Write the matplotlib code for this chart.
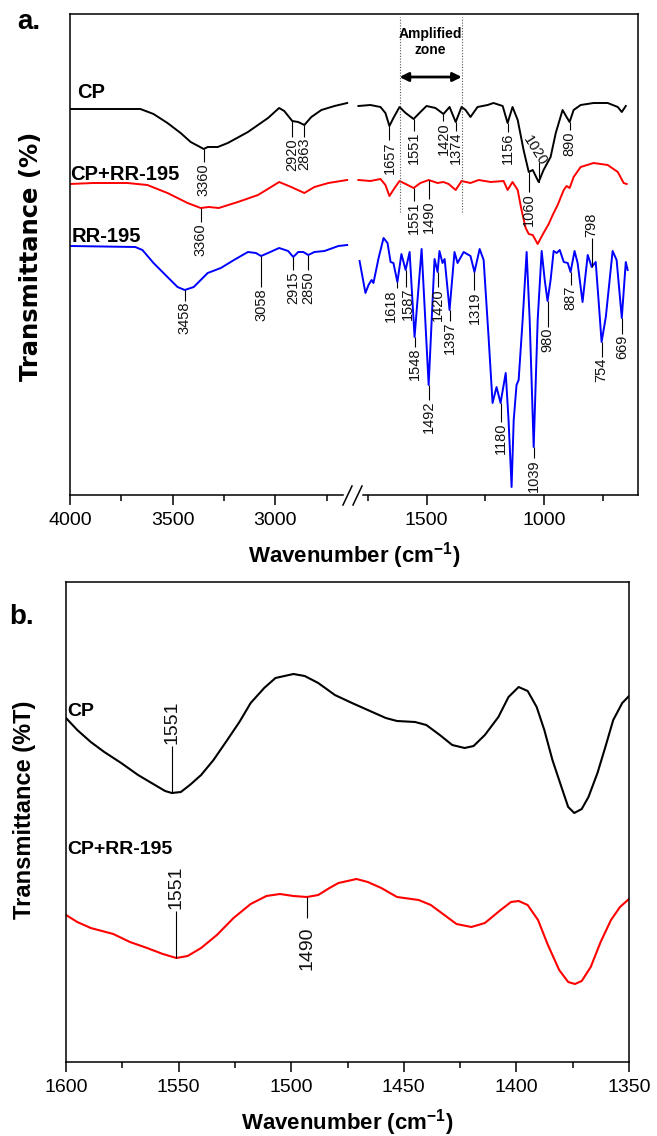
import numpy as np
import matplotlib
matplotlib.use("Agg")
import matplotlib.pyplot as plt

plt.rcParams['font.family'] = ['Liberation Sans', 'DejaVu Sans']
plt.rcParams['mathtext.default'] = 'regular'

# ---------------- Panel a data (wavenumber, transmittance a.u.) ----------------
cp_left_wn = [4000, 3657, 3593, 3525, 3461, 3412, 3348, 3329, 3304, 3280, 3231, 3133, 3035,
              2981, 2956, 2917, 2888, 2858, 2824, 2775, 2711, 2638]
cp_left_t = [386, 386, 381, 372, 362, 353, 346, 348, 348, 348, 352, 363, 377,
             387, 384, 374, 373, 370, 378, 385, 389, 392]

cprr_left_wn = [4000, 3887, 3721, 3623, 3525, 3427, 3363, 3324, 3275, 3182, 3084, 3020,
                2981, 2922, 2858, 2809, 2741, 2638]
cprr_left_t = [311, 312, 312, 310, 302, 292, 287, 288, 287, 293, 300, 308,
               313, 308, 302, 308, 312, 315]

rr_left_wn = [4000, 3682, 3647, 3593, 3525, 3476, 3441, 3397, 3329, 3265, 3201, 3133, 3094,
              3069, 3035, 2981, 2937, 2912, 2888, 2863, 2839, 2809, 2760, 2692, 2638]
rr_left_t = [249, 248, 245, 232, 218, 208, 205, 208, 222, 227, 235, 243, 242,
             239, 242, 247, 244, 238, 243, 243, 240, 243, 244, 249, 250]

cp_right_wn = [1790, 1739, 1696, 1675, 1658, 1641, 1615, 1589, 1555, 1526, 1500, 1462, 1428,
               1402, 1376, 1351, 1334, 1313, 1283, 1240, 1215, 1176, 1155, 1134, 1112, 1087,
               1065, 1048, 1023, 1002, 972, 950, 921, 904, 891, 874, 844, 789, 729, 686, 669, 652]
cp_right_t = [389, 390, 388, 382, 369, 377, 388, 382, 376, 383, 389, 387, 381,
              388, 373, 388, 385, 378, 388, 390, 392, 389, 372, 388, 375, 345,
              323, 325, 313, 325, 338, 362, 385, 378, 373, 385, 390, 392, 392, 388, 383, 389]

cprr_right_wn = [1790, 1739, 1696, 1675, 1658, 1636, 1615, 1589, 1555, 1526, 1491, 1453, 1428,
                 1406, 1376, 1351, 1313, 1278, 1227, 1172, 1155, 1134, 1112, 1100, 1091, 1078,
                 1065, 1048, 1027, 1002, 980, 963, 942, 916, 904, 891, 874, 844, 789, 729, 686,
                 661, 648]
cprr_right_t = [315, 314, 316, 310, 299, 307, 314, 311, 307, 312, 315, 312, 313,
                311, 305, 314, 312, 315, 313, 314, 305, 313, 305, 290, 280, 267,
                261, 260, 251, 262, 271, 280, 290, 305, 309, 307, 318, 328, 332, 330, 323,
                312, 311]

rr_right_wn = [1785, 1760, 1747, 1734, 1726, 1704, 1683, 1666, 1653, 1641, 1624, 1607, 1589,
               1572, 1551, 1521, 1491, 1466, 1453, 1445, 1432, 1423, 1402, 1381, 1368, 1342,
               1313, 1296, 1274, 1257, 1236, 1219, 1202, 1185, 1163, 1151, 1138, 1129, 1117,
               1108, 1091, 1074, 1061, 1044, 1027, 1010, 997, 985, 972, 959, 946, 933, 916,
               899, 887, 870, 857, 836, 814, 797, 780, 767, 755, 737, 708, 691, 669, 652, 644]
rr_right_t = [234, 202, 210, 215, 212, 237, 257, 252, 233, 232, 213, 241, 225,
              243, 158, 246, 110, 236, 223, 244, 232, 236, 185, 243, 232, 243,
              239, 223, 246, 235, 158, 92, 108, 92, 122, 75, 8, 75, 110,
              115, 175, 243, 175, 48, 175, 244, 215, 194, 215, 244, 242, 245, 233,
              232, 223, 244, 232, 193, 240, 228, 233, 192, 153, 178, 244, 235, 177, 233, 225]

# peak labels: (text, wavenumber, leader length)
cp_marks = [("3360", 3348, 13), ("2920", 2917, 16), ("2863", 2858, 12), ("1657", 1658, 14),
            ("1551", 1555, 12), ("1420", 1428, 7), ("1374", 1376, 9), ("1156", 1155, 9),
            ("1060", 1065, 20), ("890", 891, 8)]
cprr_marks = [("3360", 3363, 14), ("1551", 1555, 13), ("1490", 1491, 19)]
rr_marks = [("3458", 3441, 11), ("3058", 3069, 31), ("2915", 2912, 13), ("2850", 2839, 15),
            ("1618", 1624, 6), ("1587", 1589, 17), ("1548", 1551, 10), ("1492", 1491, 15),
            ("1420", 1453, 15), ("1397", 1402, 11), ("1319", 1296, 18), ("1180", 1185, 19),
            ("1039", 1044, 11), ("980", 985, 26), ("887", 887, 13), ("754", 755, 15),
            ("669", 669, 16)]
rr_marks_up = [("798", 797, 29)]

xticks_a = [4000, 3500, 3000, 1500, 1000]
xminor_a = [3750, 3250, 2750, 1750, 1250, 750]

# ---------------- Panel b data ----------------
cpb_wn = [1600, 1595, 1589, 1583, 1575.5, 1568, 1560.5, 1556, 1553, 1549, 1545, 1540, 1534.5,
          1529, 1523, 1518, 1512, 1507, 1499, 1494, 1488, 1480.6, 1473, 1466, 1458, 1453,
          1445, 1440, 1434, 1428.5, 1423, 1419, 1414, 1408, 1403.5, 1399, 1395, 1391, 1387.6,
          1384, 1380, 1377, 1374.3, 1371, 1368, 1364, 1360.5, 1357, 1353, 1350]
cpb_t = [344, 332, 320, 310, 299, 287, 277, 271, 269, 270, 277, 287, 302,
         320, 340, 359, 374, 384, 388, 386, 379, 367, 359, 352, 344, 341,
         340, 337, 327, 317, 314, 316, 327, 345, 365, 375, 371, 355, 332,
         302, 275, 255, 249, 253, 265, 289, 315, 342, 359, 366]

cprrb_wn = [1600, 1595, 1589, 1579, 1571.6, 1564, 1557, 1551, 1546, 1540, 1533, 1525.6, 1518,
            1511, 1505, 1499, 1493, 1488, 1483, 1479, 1471, 1466, 1460, 1453, 1443.4, 1438,
            1432, 1426.6, 1420, 1414, 1407, 1402.4, 1399, 1395, 1390.4, 1386, 1381, 1377,
            1374, 1371, 1367, 1362.6, 1358, 1354, 1350]
cprrb_t = [147, 140, 134, 128, 120, 114, 108, 104, 106, 114, 127, 144, 158,
           166, 168, 166, 165, 167, 174, 179, 183, 180, 174, 165, 162, 157,
           147, 138, 135, 139, 152, 160, 161, 157, 142, 117, 92, 80,
           78, 81, 95, 120, 142, 155, 163]

xticks_b = [1600, 1550, 1500, 1450, 1400, 1350]
xminor_b = [1575, 1525, 1475, 1425, 1375]

# ---------------- helpers ----------------
W, H = 657, 1136
BRK_WN = [600, 1800, 2650, 4000]
BRK_POS = [0.0, 281.6, 290.6, 567.3]


def fwd(x):
    return np.interp(x, BRK_WN, BRK_POS)


def inv(u):
    return np.interp(u, BRK_POS, BRK_WN)


def curve_value(xs, ys, wn):
    xs = np.asarray(xs, float)
    ys = np.asarray(ys, float)
    o = np.argsort(xs)
    return float(np.interp(wn, xs[o], ys[o]))


def peak_label(ax, xs, ys, wn, text, length, fs, up=False, gap=1.0, lw=0.8, dx=0.0):
    y0 = curve_value(xs, ys, wn)
    y1 = y0 + length if up else y0 - length
    ax.plot([wn, wn], [y0, y1], color='k', lw=lw, solid_capstyle='butt')
    ax.text(wn + dx, y1 + (gap if up else -gap), text, rotation=90, ha='center',
            va='bottom' if up else 'top', fontsize=fs, color='#111111')


fig = plt.figure(figsize=(W / 100, H / 100), dpi=100)

# ================= Panel a =================
axa = fig.add_axes([70 / W, 1 - 495 / H, 568 / W, 481 / H])
axa.set_xscale('function', functions=(fwd, inv))
axa.set_xlim(4000, 600)
axa.set_ylim(0, 481)

lw_c = 1.4
axa.plot(cp_left_wn, cp_left_t, color='black', lw=lw_c)
axa.plot(cp_right_wn, cp_right_t, color='black', lw=lw_c)
axa.plot(cprr_left_wn, cprr_left_t, color='#ff0000', lw=lw_c)
axa.plot(cprr_right_wn, cprr_right_t, color='#ff0000', lw=lw_c)
axa.plot(rr_left_wn, rr_left_t, color='#0000ff', lw=lw_c)
axa.plot(rr_right_wn, rr_right_t, color='#0000ff', lw=lw_c)

fs_pk = 10.5
cp_wn_all = cp_left_wn + cp_right_wn
cp_t_all = cp_left_t + cp_right_t
for txt, wn, L in cp_marks:
    peak_label(axa, cp_wn_all, cp_t_all, wn, txt, L, fs_pk)
# 1020 diagonal label
y1020 = curve_value(cp_wn_all, cp_t_all, 1023)
axa.plot([1023, 1023], [y1020, y1020 + 19], color='k', lw=0.8)
axa.text(1040, y1020 + 31, "1020", rotation=-58, ha='center', va='center',
         fontsize=fs_pk, color='#111111')

cprr_wn_all = cprr_left_wn + cprr_right_wn
cprr_t_all = cprr_left_t + cprr_right_t
for txt, wn, L in cprr_marks:
    peak_label(axa, cprr_wn_all, cprr_t_all, wn, txt, L, fs_pk)

rr_wn_all = rr_left_wn + rr_right_wn
rr_t_all = rr_left_t + rr_right_t
text_shift = {"1618": 26, "1587": -8}
for txt, wn, L in rr_marks:
    peak_label(axa, rr_wn_all, rr_t_all, wn, txt, L, fs_pk, dx=text_shift.get(txt, 0.0))
for txt, wn, L in rr_marks_up:
    peak_label(axa, rr_wn_all, rr_t_all, wn, txt, L, fs_pk, up=True)

# amplified zone
for wn in (1615, 1350):
    axa.plot([wn, wn], [283, 478], color='#555555', lw=0.8, ls=(0, (1, 1.5)))
axa.annotate('', xy=(1350, 418), xytext=(1615, 418),
             arrowprops=dict(arrowstyle='<|-|>', color='k', lw=2.0, mutation_scale=13,
                             shrinkA=0, shrinkB=0))
axa.text(1483, 453, 'Amplified\nzone', ha='center', va='center', fontsize=10,
         fontweight='bold', linespacing=1.1)

# series labels
axa.text((77 - 70) / 568, (495 - 93) / 481, 'CP', transform=axa.transAxes,
         fontsize=14.5, fontweight='bold', ha='left', va='center')
axa.text(0.0, (495 - 175) / 481, 'CP+RR-195', transform=axa.transAxes,
         fontsize=14.5, fontweight='bold', ha='left', va='center')
axa.text((72 - 70) / 568, (495 - 237) / 481, 'RR-195', transform=axa.transAxes,
         fontsize=14.5, fontweight='bold', ha='left', va='center')

# axes styling
axa.set_yticks([])
axa.set_xticks(xticks_a)
axa.set_xticklabels([str(v) for v in xticks_a])
axa.set_xticks(xminor_a, minor=True)
axa.tick_params(axis='x', which='major', direction='out', length=7, width=1.1,
                labelsize=14, pad=5)
axa.tick_params(axis='x', which='minor', direction='out', length=4.5, width=1.1)
for s in ('top', 'left', 'right'):
    axa.spines[s].set_linewidth(1.1)
axa.spines['bottom'].set_visible(False)
x_l = (343 - 70) / 568
x_r = (363 - 70) / 568
axa.plot([0, x_l], [0, 0], transform=axa.transAxes, color='k', lw=1.1, clip_on=False)
axa.plot([x_r, 1], [0, 0], transform=axa.transAxes, color='k', lw=1.1, clip_on=False)
for xa, xb in (((343 - 70) / 568, (352 - 70) / 568), ((353 - 70) / 568, (362 - 70) / 568)):
    axa.plot([xa, xb], [-10 / 481, 9 / 481], transform=axa.transAxes, color='k',
             lw=1.1, clip_on=False)
axa.set_xlabel('Wavenumber (cm$^{-1}$)', fontsize=16, fontweight='bold', labelpad=8)

fig.text(31 / W, 1 - 256 / H, 'Transmittance (%)', rotation=90, ha='center', va='center',
         fontsize=17.5, fontweight='bold', family='DejaVu Sans')
fig.text(29 / W, 1 - 22 / H, 'a.', ha='center', va='center', fontsize=20, fontweight='bold')

# ================= Panel b =================
axb = fig.add_axes([66 / W, 1 - 1062 / H, 563 / W, 480 / H])
axb.set_xlim(1600, 1350)
axb.set_ylim(0, 480)
axb.plot(cpb_wn, cpb_t, color='black', lw=1.5)
axb.plot(cprrb_wn, cprrb_t, color='#ff0000', lw=1.5)

fs_b = 14
peak_label(axb, cpb_wn, cpb_t, 1553, '1551', 47, fs_b, up=True, gap=2)
peak_label(axb, cprrb_wn, cprrb_t, 1551, '1551', 47, fs_b, up=True, gap=2)
peak_label(axb, cprrb_wn, cprrb_t, 1493, '1490', 21, fs_b, up=False, gap=8)

axb.text(0.003, (1062 - 711) / 480, 'CP', transform=axb.transAxes, fontsize=14,
         fontweight='bold', ha='left', va='center')
axb.text(0.003, (1062 - 850) / 480, 'CP+RR-195', transform=axb.transAxes, fontsize=14,
         fontweight='bold', ha='left', va='center')

axb.set_yticks([])
axb.set_xticks(xticks_b)
axb.set_xticklabels([str(v) for v in xticks_b])
axb.set_xticks(xminor_b, minor=True)
axb.tick_params(axis='x', which='major', direction='out', length=7, width=1.1,
                labelsize=14, pad=5)
axb.tick_params(axis='x', which='minor', direction='out', length=4.5, width=1.1)
for s in axb.spines.values():
    s.set_linewidth(1.1)
axb.set_xlabel('Wavenumber (cm$^{-1}$)', fontsize=16, fontweight='bold', labelpad=8)

fig.text(25 / W, 1 - 810 / H, 'Transmittance (%T)', rotation=90, ha='center', va='center',
         fontsize=17, fontweight='bold')
fig.text(22 / W, 1 - 617 / H, 'b.', ha='center', va='center', fontsize=20, fontweight='bold')

fig.savefig('out.png', dpi=100)
